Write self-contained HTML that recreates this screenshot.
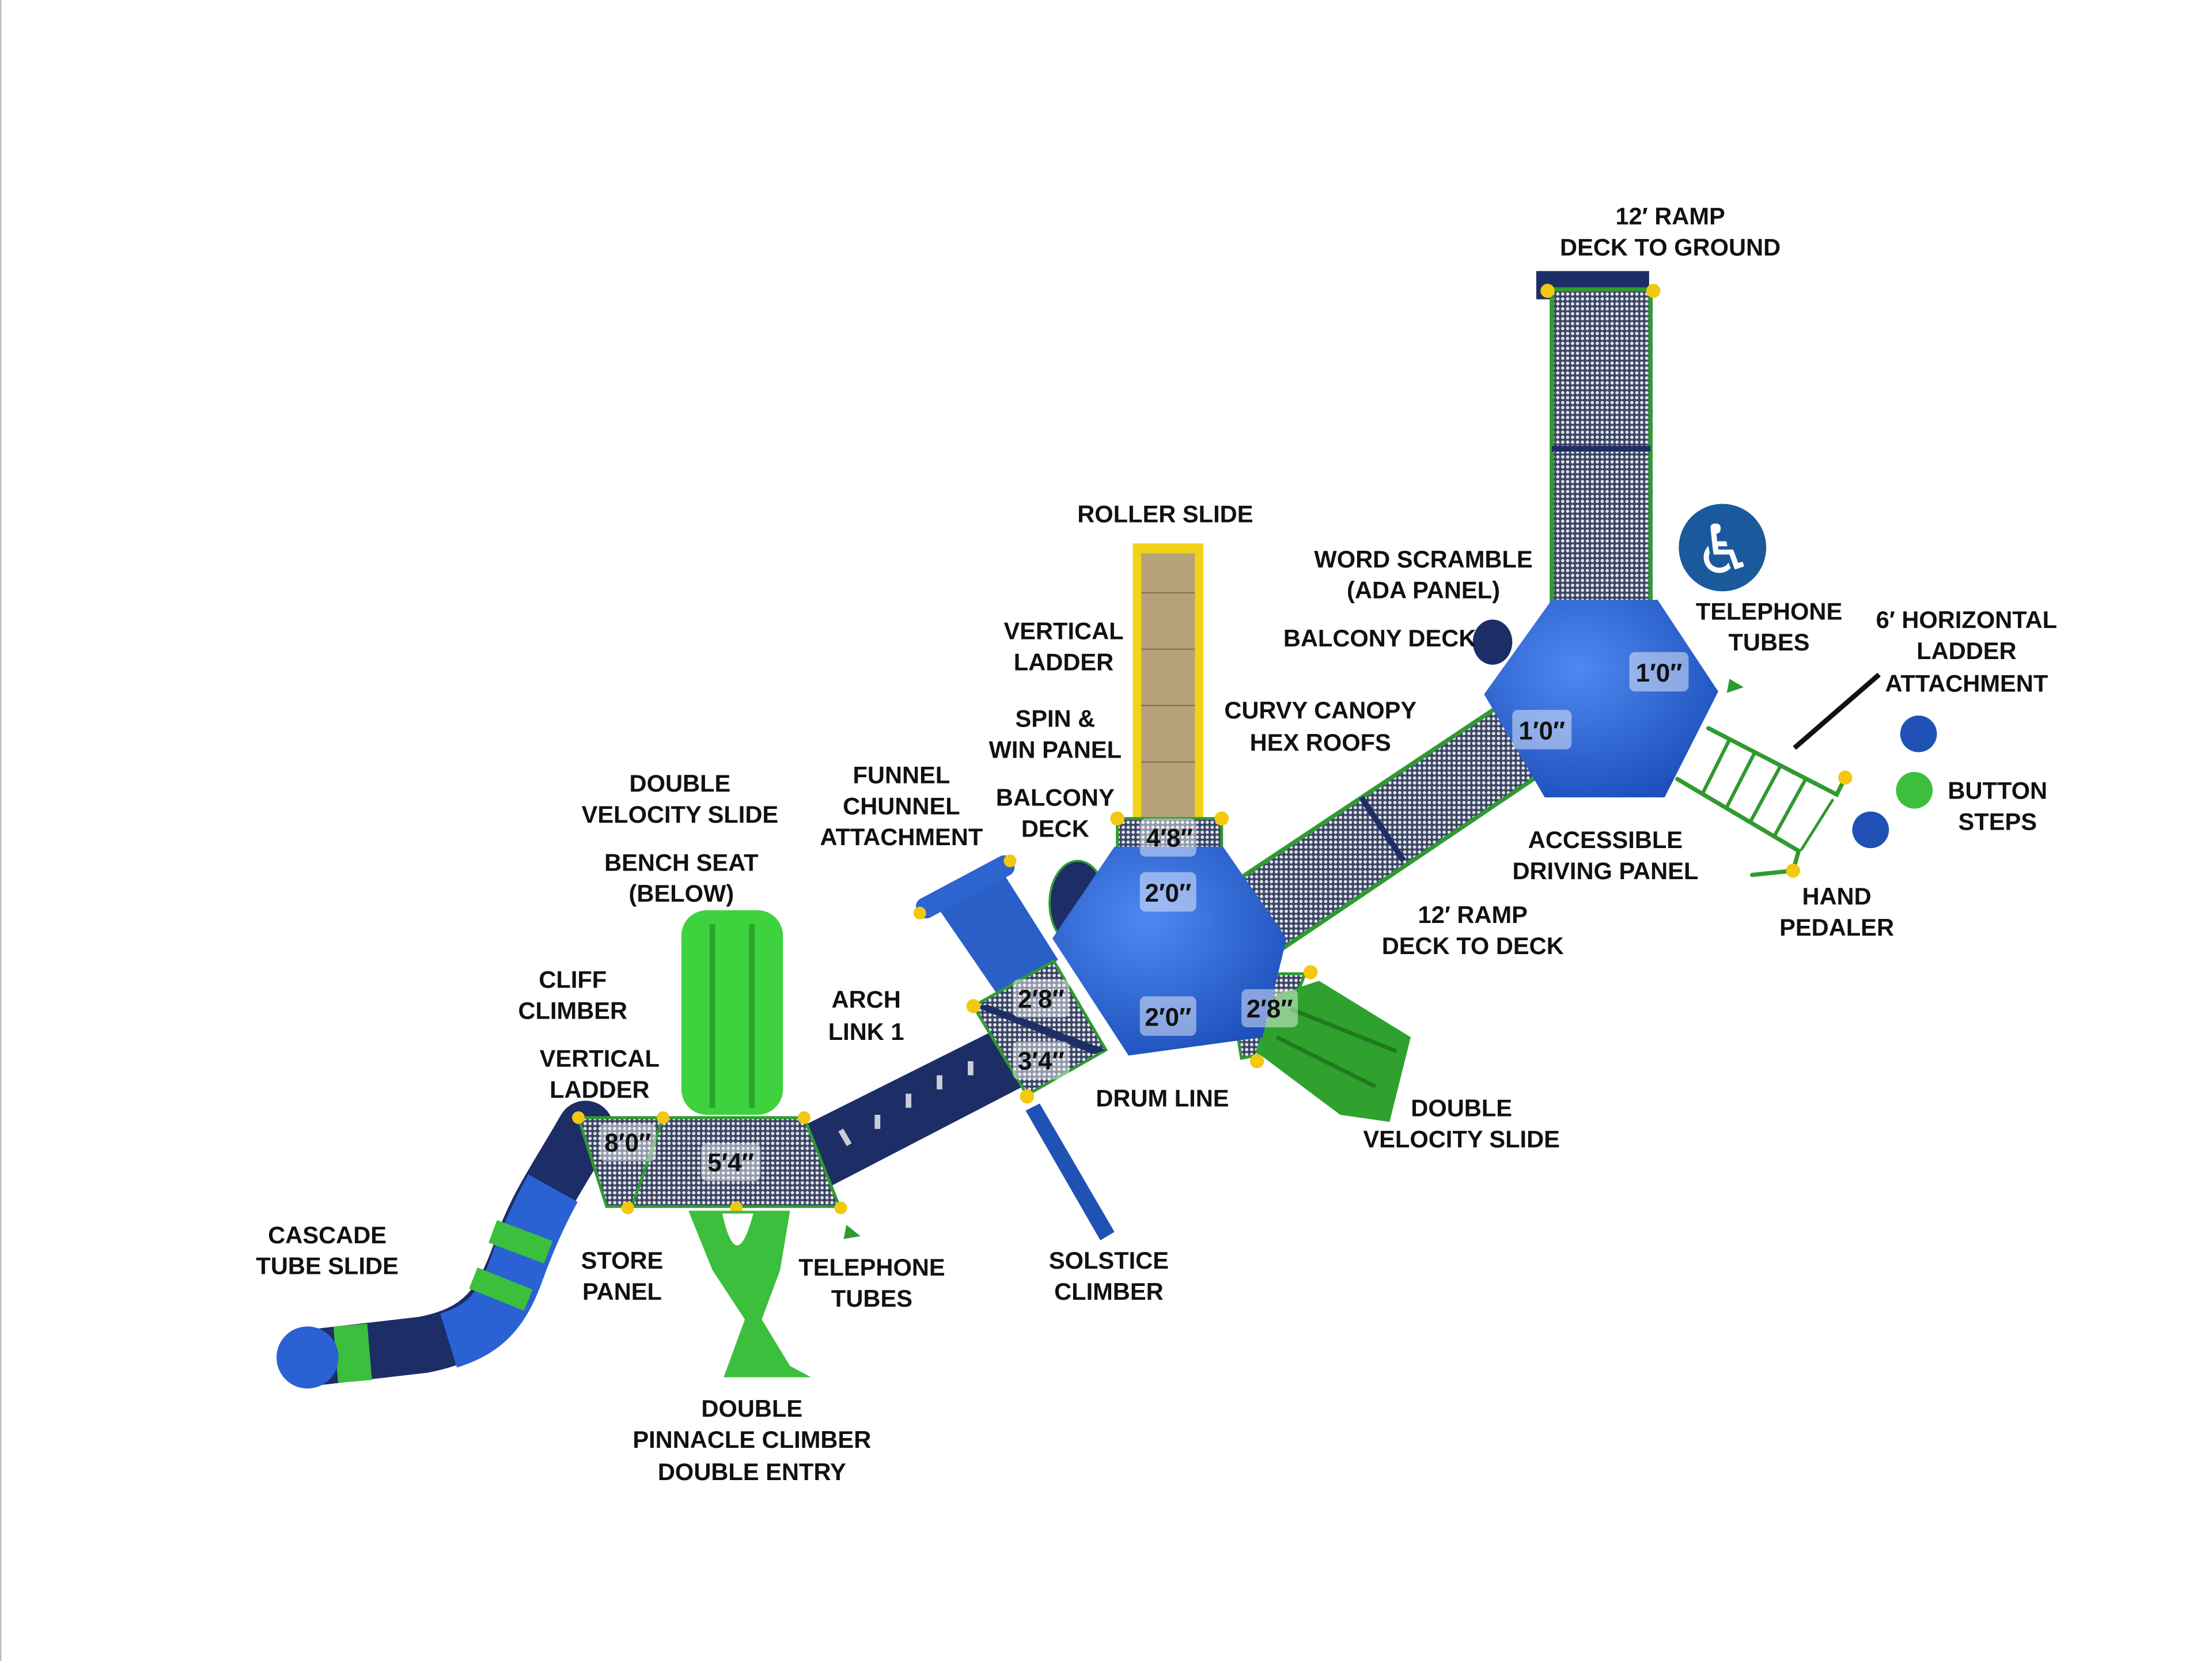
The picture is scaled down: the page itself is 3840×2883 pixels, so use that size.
<!DOCTYPE html>
<html><head><meta charset="utf-8"><style>
html,body{margin:0;padding:0;background:#fff;}
svg{display:block;}
.l{font-family:"Liberation Sans",sans-serif;font-weight:bold;font-size:17px;fill:#111;text-anchor:middle;}
.d{font-family:"Liberation Sans",sans-serif;font-weight:bold;font-size:18px;fill:#111;text-anchor:middle;}
</style></head><body>
<svg width="3840" height="2883" viewBox="0 0 1568 1177" xmlns="http://www.w3.org/2000/svg">
<defs>
<pattern id="mesh" width="3.5" height="3.5" patternUnits="userSpaceOnUse"><rect width="3.5" height="3.5" fill="#3a4463"/><circle cx="1.75" cy="1.75" r="1.2" fill="#dfe2ea"/></pattern>
<radialGradient id="dome" cx="40%" cy="35%" r="70%"><stop offset="0" stop-color="#4f88f2"/><stop offset="1" stop-color="#1d50ba"/></radialGradient>
</defs>
<rect width="1568" height="1177" fill="#fff"/>
<line x1="0.5" y1="0" x2="0.5" y2="1177" stroke="#bbb" stroke-width="1"/>

<!-- top ramp -->
<rect x="1089" y="192" width="80" height="20" fill="#1d2d66"/>
<rect x="1100" y="205" width="70" height="225" fill="url(#mesh)" stroke="#2f9a2f" stroke-width="3"/>
<rect x="1100" y="316" width="70" height="4" fill="#1d2d66"/>
<circle cx="1097" cy="206" r="5" fill="#f2c811"/><circle cx="1172" cy="206" r="5" fill="#f2c811"/>

<!-- ramp deck to deck -->
<polygon points="875,625 1060,502 1090,550 905,675" fill="url(#mesh)" stroke="#2f9a2f" stroke-width="3"/>
<line x1="965" y1="565" x2="995" y2="610" stroke="#1d2d66" stroke-width="4"/>

<!-- horizontal ladder -->
<g stroke="#2f9a2f" stroke-width="3" fill="none" stroke-linecap="round">
<polyline points="1211,516 1302,563 1308,551"/>
<polyline points="1189,552 1275,603 1271,617"/>
<line x1="1299" y1="567" x2="1277" y2="602" stroke-width="2"/>
<line x1="1271" y1="617" x2="1242" y2="620"/>
<g stroke-width="2.5">
<line x1="1226" y1="524" x2="1207" y2="562"/><line x1="1244" y1="533" x2="1224" y2="572"/><line x1="1262" y1="543" x2="1241" y2="582"/><line x1="1280" y1="552" x2="1258" y2="592"/>
</g></g>
<circle cx="1308" cy="551" r="5" fill="#f2c811"/><circle cx="1271" cy="617" r="5" fill="#f2c811"/>
<polygon points="1226,481 1236,487 1224,491" fill="#2f9a2f"/>
<line x1="1272" y1="530" x2="1332" y2="478" stroke="#111" stroke-width="3.5"/>

<!-- buttons -->
<circle cx="1360" cy="520" r="13" fill="#1f52b4"/><circle cx="1357" cy="560" r="13" fill="#3cbf3c"/><circle cx="1326" cy="588" r="13" fill="#1f52b4"/>

<!-- wheelchair icon -->
<circle cx="1221" cy="388" r="31" fill="#1a5a9c"/>
<text x="1222" y="406" font-size="48" text-anchor="middle" fill="#fff" font-family="DejaVu Sans">♿</text>

<!-- right dome -->
<ellipse cx="1058" cy="455" rx="14" ry="16" fill="#1d2d66"/>
<polygon points="1100,425 1175,425 1218,490 1180,565 1095,565 1052,492" fill="url(#dome)"/>
<rect x="1155" y="462" width="42" height="28" rx="4" fill="#fff" opacity="0.45"/><text class="d" x="1176" y="483">1′0″</text>
<rect x="1072" y="503" width="42" height="28" rx="4" fill="#fff" opacity="0.45"/><text class="d" x="1093" y="524">1′0″</text>

<!-- roller slide -->
<rect x="803" y="385" width="50" height="195" fill="#f2d21a"/>
<rect x="809" y="392" width="38" height="190" fill="#b8a27a"/>
<g stroke="#8a7654" stroke-width="1">
<line x1="809" y1="420" x2="847" y2="420"/><line x1="809" y1="460" x2="847" y2="460"/><line x1="809" y1="500" x2="847" y2="500"/><line x1="809" y1="540" x2="847" y2="540"/></g>
<polygon points="792,580 866,580 866,605 792,605" fill="url(#mesh)" stroke="#2f9a2f" stroke-width="2"/>
<circle cx="792" cy="580" r="5" fill="#f2c811"/><circle cx="866" cy="580" r="5" fill="#f2c811"/>

<!-- arch link tube -->
<polygon points="565,800 705,730 725,770 590,840" fill="#1d2d66"/>
<g fill="#c9cdd6"><rect x="597" y="800" width="4" height="12" transform="rotate(-30 599 806)"/><rect x="620" y="790" width="4" height="10"/><rect x="642" y="775" width="4" height="10"/><rect x="664" y="762" width="4" height="10"/><rect x="686" y="752" width="4" height="10"/></g>

<!-- funnel chunnel -->
<polygon points="666,645 712,620 750,680 712,712" fill="#2a5fc8"/>
<rect x="646" y="621" width="76" height="15" rx="6" transform="rotate(-28 684 628)" fill="#2e64d0"/>
<circle cx="652" cy="647" r="4.5" fill="#f2c811"/><circle cx="716" cy="610" r="4.5" fill="#f2c811"/>

<!-- left dome decks -->
<polygon points="690,713 747,681 784,744 728,776" fill="url(#mesh)" stroke="#2f9a2f" stroke-width="2"/>
<polygon points="690,713 700,712 784,744 775,747" fill="#1d2d66"/>
<polygon points="870,690 925,690 905,745 880,750" fill="url(#mesh)" stroke="#2f9a2f" stroke-width="2"/>
<circle cx="690" cy="713" r="5" fill="#f2c811"/><circle cx="728" cy="777" r="5" fill="#f2c811"/><circle cx="929" cy="689" r="5" fill="#f2c811"/><circle cx="891" cy="752" r="5" fill="#f2c811"/>

<!-- right green slide -->
<polygon points="905,705 935,695 1000,735 985,795 950,790 890,745" fill="#2fa12f"/>
<path d="M915,715 L990,745 M905,735 L975,770" stroke="#1e7a1e" stroke-width="3"/>

<!-- solstice climber -->
<polygon points="727,787 737,782 790,873 780,879" fill="#1f52b4"/>

<!-- left dome -->
<ellipse cx="764" cy="640" rx="20" ry="30" fill="#1d2d66" stroke="#2f9a2f" stroke-width="1.5"/>
<polygon points="790,600 867,600 912,665 895,735 800,748 746,665" fill="url(#dome)"/>
<rect x="808" y="618" width="40" height="28" rx="4" fill="#fff" opacity="0.45"/><text class="d" x="828" y="639">2′0″</text>
<rect x="808" y="706" width="40" height="28" rx="4" fill="#fff" opacity="0.45"/><text class="d" x="828" y="727">2′0″</text>
<rect x="808" y="580" width="40" height="27" rx="4" fill="#fff" opacity="0.45"/><text class="d" x="829" y="600">4′8″</text>
<rect x="718" y="694" width="40" height="27" rx="4" fill="#fff" opacity="0.45"/><text class="d" x="738" y="714">2′8″</text>
<rect x="718" y="738" width="40" height="27" rx="4" fill="#fff" opacity="0.45"/><text class="d" x="738" y="758">3′4″</text>
<rect x="880" y="701" width="40" height="27" rx="4" fill="#fff" opacity="0.45"/><text class="d" x="900" y="721">2′8″</text>

<!-- green double velocity slide left -->
<rect x="483" y="645" width="72" height="145" rx="18" fill="#3ed23e"/>
<path d="M505,655 L505,785 M533,655 L533,785" stroke="#2aa52a" stroke-width="4"/>

<!-- cascade tube slide -->
<path d="M415,800 C395,835 380,855 370,885 C356,925 342,945 300,953 L222,962" fill="none" stroke="#1d2d66" stroke-width="40" stroke-linecap="round"/>
<path d="M392,842 C382,860 374,878 366,900 C356,928 344,942 318,950" fill="none" stroke="#2a62d4" stroke-width="40"/>
<path d="M372,872 L366,888" fill="none" stroke="#3cbf3c" stroke-width="42"/>
<path d="M358,906 L352,921" fill="none" stroke="#3cbf3c" stroke-width="42"/>
<path d="M262,958 L238,960" fill="none" stroke="#3cbf3c" stroke-width="40"/>
<ellipse cx="218" cy="962" rx="22" ry="22" fill="#2a62d4"/>

<!-- left decks -->
<polygon points="410,792 470,792 448,855 430,855" fill="url(#mesh)" stroke="#2f9a2f" stroke-width="2"/>
<polygon points="470,792 570,792 595,855 448,855" fill="url(#mesh)" stroke="#2f9a2f" stroke-width="2"/>
<g fill="#f2c811"><circle cx="410" cy="792" r="4.5"/><circle cx="470" cy="792" r="4.5"/><circle cx="570" cy="792" r="4.5"/><circle cx="445" cy="856" r="4.5"/><circle cx="522" cy="856" r="4.5"/><circle cx="596" cy="856" r="4.5"/></g>
<rect x="425" y="796" width="40" height="27" rx="4" fill="#fff" opacity="0.45"/><text class="d" x="445" y="816">8′0″</text>
<rect x="497" y="810" width="42" height="27" rx="4" fill="#fff" opacity="0.45"/><text class="d" x="518" y="830">5′4″</text>

<!-- pinnacle climber -->
<path d="M488,858 L560,858 L553,900 L540,935 L560,968 L575,976 L513,976 L528,935 L505,900 Z" fill="#3cbf3c"/>
<path d="M512,860 Q522,905 534,860 Z" fill="#fff"/>
<polygon points="600,868 610,876 598,878" fill="#2f9a2f"/>

<!-- labels -->
<g class="l">
<text x="1184" y="159">12′ RAMP</text><text x="1184" y="181">DECK TO GROUND</text>
<text x="826" y="370">ROLLER SLIDE</text>
<text x="1009" y="402">WORD SCRAMBLE</text><text x="1009" y="424">(ADA PANEL)</text>
<text x="978" y="458">BALCONY DECK</text>
<text x="754" y="453">VERTICAL</text><text x="754" y="475">LADDER</text>
<text x="748" y="515">SPIN &amp;</text><text x="748" y="537">WIN PANEL</text>
<text x="936" y="509">CURVY CANOPY</text><text x="936" y="532">HEX ROOFS</text>
<text x="1254" y="439">TELEPHONE</text><text x="1254" y="461">TUBES</text>
<text x="1394" y="445">6′ HORIZONTAL</text><text x="1394" y="467">LADDER</text><text x="1394" y="490">ATTACHMENT</text>
<text x="1416" y="566">BUTTON</text><text x="1416" y="588">STEPS</text>
<text x="1302" y="641">HAND</text><text x="1302" y="663">PEDALER</text>
<text x="1138" y="601">ACCESSIBLE</text><text x="1138" y="623">DRIVING PANEL</text>
<text x="1044" y="654">12′ RAMP</text><text x="1044" y="676">DECK TO DECK</text>
<text x="482" y="561">DOUBLE</text><text x="482" y="583">VELOCITY SLIDE</text>
<text x="483" y="617">BENCH SEAT</text><text x="483" y="639">(BELOW)</text>
<text x="639" y="555">FUNNEL</text><text x="639" y="577">CHUNNEL</text><text x="639" y="599">ATTACHMENT</text>
<text x="748" y="571">BALCONY</text><text x="748" y="593">DECK</text>
<text x="406" y="700">CLIFF</text><text x="406" y="722">CLIMBER</text>
<text x="425" y="756">VERTICAL</text><text x="425" y="778">LADDER</text>
<text x="614" y="714">ARCH</text><text x="614" y="737">LINK 1</text>
<text x="824" y="784">DRUM LINE</text>
<text x="1036" y="791">DOUBLE</text><text x="1036" y="813">VELOCITY SLIDE</text>
<text x="232" y="881">CASCADE</text><text x="232" y="903">TUBE SLIDE</text>
<text x="441" y="899">STORE</text><text x="441" y="921">PANEL</text>
<text x="618" y="904">TELEPHONE</text><text x="618" y="926">TUBES</text>
<text x="786" y="899">SOLSTICE</text><text x="786" y="921">CLIMBER</text>
<text x="533" y="1004">DOUBLE</text><text x="533" y="1026">PINNACLE CLIMBER</text><text x="533" y="1049">DOUBLE ENTRY</text>
</g>
</svg>
</body></html>
